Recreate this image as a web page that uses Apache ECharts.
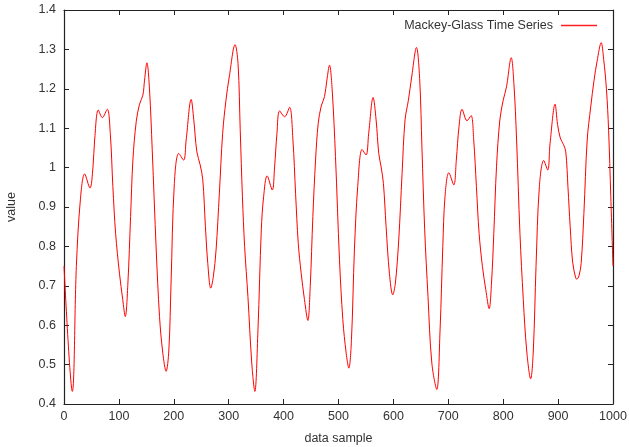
<!DOCTYPE html>
<html><head><meta charset="utf-8">
<script src="https://cdn.jsdelivr.net/npm/echarts@6/dist/echarts.min.js"></script>
<style>html,body{margin:0;padding:0;background:#fff}#c{width:629px;height:447px}</style>
</head><body><div id="c"></div>
<script>
var seriesName = 'Mackey-Glass Time Series';
var sampleX = [0,15.2,22.5,29.8,37.6,47.3,52.8,55.8,62.5,69.8,78.8,84.3,89,94,101,107,111.6,116.4,121.3,125.5,131.6,137.6,143.7,146.7,151,155.8,160.7,168,174,180,186,191,195,201,209,218,222.5,231.6,236.4,242,248,252.8,257.6,261.9,267.3,272,277,283,289,295,301,311.6,317,321,325,329,335,342,347.6,353.3,359.4,363.6,370,379.4,383.6,387.9,392.7,401.8,410.9,417,421.8,426.7,432,438,444.2,448.5,453.3,458.2,463,468.5,474.5,478.8,483.6,488.5,494.5,501.8,507.9,514,518.8,523.6,529,535,543,550.3,555,563,568.5,573.3,577.6,581.8,586.7,592.7,598.8,603.6,609.7,615.8,621.2,627.3,633.3,642,648,652,657,663,670,679,685,690,694,701,710,714.6,719.5,725,734.1,741.5,746.3,751.2,756.1,762.2,768.3,774.4,778.7,782.9,787.8,793.9,800,806,814.6,819.5,824.4,830.5,836.6,842.7,850,854.9,859.8,865.9,873.8,881.1,885.4,894.5,899,904,910,914,918,922,926.5,932,934,938,942,947,953,959.4,965.5,971,978.5,983,988,992,996,1000];
var sampleY = [0.75,0.432,0.749,0.918,0.984,0.948,1.002,1.07,1.146,1.127,1.148,1.087,0.952,0.833,0.732,0.665,0.622,0.707,0.876,1.019,1.117,1.161,1.184,1.222,1.266,1.197,1.045,0.791,0.622,0.529,0.483,0.537,0.707,0.96,1.036,1.019,1.07,1.173,1.121,1.04,1.007,0.969,0.85,0.757,0.694,0.723,0.791,0.935,1.087,1.171,1.23,1.312,1.264,1.095,0.926,0.80,0.673,0.504,0.432,0.588,0.842,0.926,0.979,0.943,1.002,1.087,1.144,1.129,1.153,1.07,0.935,0.808,0.732,0.665,0.612,0.698,0.876,1.019,1.112,1.156,1.18,1.222,1.26,1.197,1.028,0.766,0.614,0.529,0.491,0.563,0.791,0.952,1.046,1.032,1.087,1.178,1.121,1.036,1.002,0.96,0.85,0.732,0.677,0.707,0.816,0.985,1.121,1.171,1.23,1.305,1.22,1.05,0.842,0.673,0.504,0.437,0.588,0.80,0.926,0.987,0.956,1.019,1.104,1.148,1.119,1.132,1.07,0.952,0.833,0.749,0.69,0.642,0.707,0.833,1.002,1.121,1.171,1.205,1.279,1.213,1.07,0.833,0.665,0.537,0.464,0.537,0.749,0.952,1.018,0.994,1.062,1.161,1.11,1.075,1.058,1.04,0.95,0.85,0.76,0.72,0.717,0.725,0.757,0.884,1.07,1.154,1.222,1.27,1.317,1.275,1.2,1.095,0.926,0.75];
var xTicks = [0,100,200,300,400,500,600,700,800,900,1000];
var yTicks = [0.4,0.5,0.6,0.7,0.8,0.9,1.0,1.1,1.2,1.3,1.4];

var data = sampleX.map(function(x,i){return [x, sampleY[i]];});
var font = 'Liberation Sans, Arial, sans-serif';
var txt = '#333';
var chart = echarts.init(document.getElementById('c'), null, {renderer:'canvas'});
chart.setOption({
  animation:false,
  backgroundColor:'#fff',
  grid:{left:64,right:16,top:10,bottom:43,containLabel:false,outerBoundsMode:'none'},
  legend:{
    data:[seriesName], right:27, top:14, align:'right',
    icon:'rect', itemWidth:36, itemHeight:1.5, itemGap:0,
    itemStyle:{color:'#ff2020',borderWidth:0,borderColor:'transparent'},
    textStyle:{fontFamily:font,fontSize:12.5,color:txt,padding:[0,3,0,0]}
  },
  xAxis:[{
    type:'value', min:xTicks[0], max:xTicks[xTicks.length-1], interval:100,
    name:'data sample', nameLocation:'middle', nameGap:28,
    nameTextStyle:{fontFamily:font,fontSize:12.5,color:txt},
    axisLine:{show:true,onZero:false,lineStyle:{color:'#222',width:1.2}},
    axisTick:{show:true,inside:true,length:5,lineStyle:{color:'#222'}},
    axisLabel:{fontFamily:font,fontSize:12.5,color:txt,margin:6,
      formatter:function(v){return String(v);}},
    splitLine:{show:false}
  },{
    type:'value', position:'top', min:0, max:1000, interval:100,
    axisLine:{show:true,onZero:false,lineStyle:{color:'#222',width:1.2}},
    axisTick:{show:true,inside:true,length:5,lineStyle:{color:'#222'}},
    axisLabel:{show:false}, splitLine:{show:false}
  }],
  yAxis:[{
    type:'value', min:yTicks[0], max:yTicks[yTicks.length-1], interval:0.1,
    name:'value', nameLocation:'middle', nameGap:46, nameRotate:90,
    nameTextStyle:{fontFamily:font,fontSize:12.5,color:txt},
    axisLine:{show:true,onZero:false,lineStyle:{color:'#222',width:1.2}},
    axisTick:{show:true,inside:true,length:5,lineStyle:{color:'#222'}},
    axisLabel:{fontFamily:font,fontSize:12.5,color:txt,margin:8,
      formatter:function(v){return String(Math.round(v*10)/10);}},
    splitLine:{show:false}
  },{
    type:'value', position:'right', min:0.4, max:1.4, interval:0.1,
    axisLine:{show:true,onZero:false,lineStyle:{color:'#222',width:1.2}},
    axisTick:{show:true,inside:true,length:5,lineStyle:{color:'#222'}},
    axisLabel:{show:false}, splitLine:{show:false}
  }],
  series:[{
    name:seriesName, type:'line', data:data, smooth:0.35,
    showSymbol:false, symbol:'none',
    lineStyle:{color:'#ff0000',width:1}, itemStyle:{color:'#ff0000'}
  }]
});
</script></body></html>
